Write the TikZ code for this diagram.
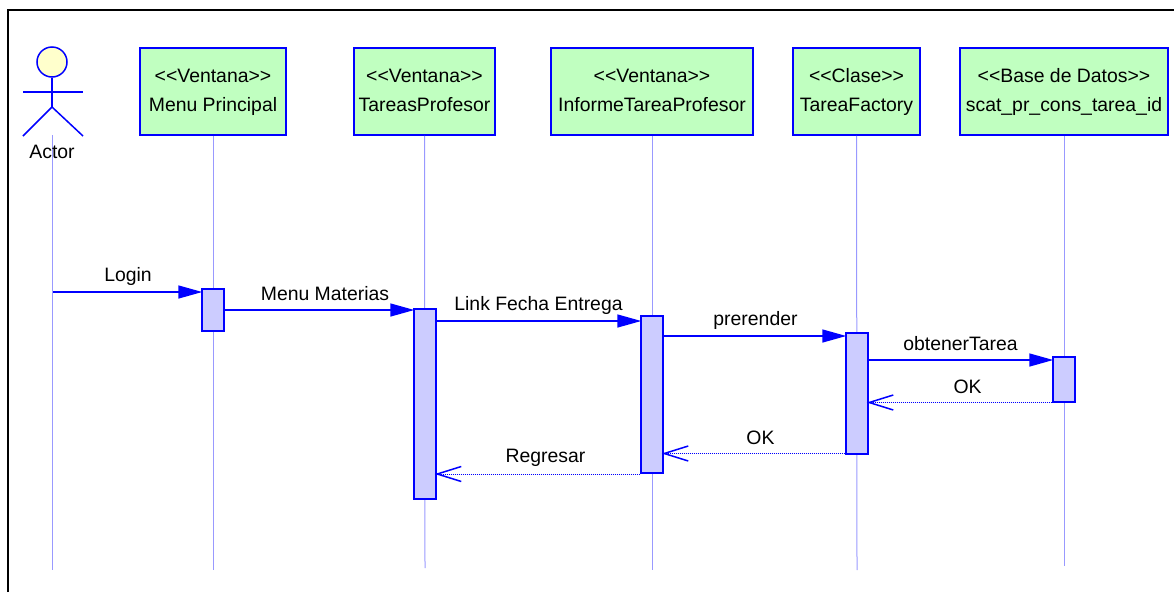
\documentclass[tikz,border=0pt]{standalone}
\usepackage{fontspec}
\setmainfont{Liberation Sans}[Ligatures=NoCommon]
\usepackage{xcolor}
\usetikzlibrary{arrows.meta, positioning}
\definecolor{umlBlue}{RGB}{0,0,255}
\definecolor{umlGreen}{RGB}{192,255,192}
\definecolor{umlBar}{RGB}{204,204,255}
\definecolor{umlLife}{RGB}{153,153,255}
\definecolor{umlHead}{RGB}{255,255,204}
\tikzstyle{lifeHead} = [draw=umlBlue, fill=umlGreen, rectangle, line width=1.5pt, minimum height=87pt, align=center, inner sep=0pt, font=\fontsize{19.4}{29}\selectfont]
\tikzstyle{bar} = [draw=umlBlue, fill=umlBar, rectangle, line width=1.5pt, minimum width=22pt, inner sep=0pt]
\tikzstyle{life} = [umlLife, line width=1pt]
\tikzstyle{limb} = [umlBlue, line width=1.5pt]
\tikzstyle{call} = [umlBlue, line width=1.5pt, -{Triangle[length=24pt,width=13pt]}, shorten >=-1pt]
\tikzstyle{back} = [umlBlue, line width=1pt, densely dotted, -{Straight Barb[length=24pt,width=15pt,line width=1.5pt]}, shorten >=-2pt]
\tikzstyle{msg} = [font=\fontsize{19.4}{23}\selectfont, inner sep=0pt]
\begin{document}
\begin{tikzpicture}[x=1pt, y=-1pt]
        \useasboundingbox (0,0) rectangle (1174,592);
        \draw [line width=2pt] (8,592) -- (8,10) -- (1174,10);

        % We start by placing the heads
        \node [lifeHead, minimum width=146pt] (menuHead) at (213,91.5) {\strut <\kern0pt<Ventana>\kern0pt>\\\strut Menu Principal};
        \node [lifeHead, minimum width=141pt] (tareasHead) at (424.5,91.5) {\strut <\kern0pt<Ventana>\kern0pt>\\\strut TareasProfesor};
        \node [lifeHead, minimum width=202pt] (informeHead) at (652,91.5) {\strut <\kern0pt<Ventana>\kern0pt>\\\strut InformeTareaProfesor};
        \node [lifeHead, minimum width=127pt] (factoryHead) at (856.5,91.5) {\strut <\kern0pt<Clase>\kern0pt>\\\strut TareaFactory};
        \node [lifeHead, minimum width=208pt] (baseHead) at (1064,91.5) {\strut <\kern0pt<Base de Datos>\kern0pt>\\\strut scat\_pr\_cons\_tarea\_id};

        % The actor
        \node [draw=umlBlue, fill=umlHead, circle, line width=1.5pt, minimum size=30pt, inner sep=0pt] (actorHead) at (52,62) {};
        \coordinate (hip) at (52,107);
        \coordinate (armL) at (23,92);
        \coordinate (armR) at (83,92);
        \coordinate (footL) at (23,136);
        \coordinate (footR) at (83,136);
        \draw [limb] (actorHead) -- (hip);
        \draw [limb] (armL) -- (armR);
        \draw [limb] (footL) -- (hip) -- (footR);

        % Lifelines go below the bars
        \coordinate (actorTop) at (52,135);
        \coordinate (actorEnd) at (52,570);
        \coordinate (menuEnd) at (213,570);
        \coordinate (tareasEnd) at (425,568);
        \coordinate (informeEnd) at (652,570);
        \coordinate (factoryEnd) at (857,570);
        \coordinate (baseEnd) at (1064,566);
        \draw [life] (actorTop) -- (actorEnd);
        \draw [life] (menuHead) -- (menuEnd);
        \draw [life] (tareasHead) -- (tareasEnd);
        \draw [life] (informeHead) -- (informeEnd);
        \draw [life] (factoryHead) -- (factoryEnd);
        \draw [life] (baseHead) -- (baseEnd);
        \node [msg] (actorLabel) at (52,152) {Actor};

        \node [bar, minimum height=42pt] (menuBar) at (213,310) {};
        \node [bar, minimum height=190pt] (tareasBar) at (425,404) {};
        \node [bar, minimum height=157pt] (informeBar) at (652,394.5) {};
        \node [bar, minimum height=121pt] (factoryBar) at (857,393.5) {};
        \node [bar, minimum height=45pt] (baseBar) at (1064,379.5) {};

        % Heights of the messages
        \coordinate (login) at (53,292);
        \coordinate (materias) at (0,310);
        \coordinate (fecha) at (0,321);
        \coordinate (pre) at (0,336);
        \coordinate (obtener) at (0,360);
        \coordinate (okBase) at (0,402.5);
        \coordinate (okFactory) at (0,453.5);
        \coordinate (regresar) at (0,474);

        \draw [call] (login) -- (menuBar.west |- login);
        \draw [call] (menuBar.east |- materias) -- (tareasBar.west |- materias);
        \draw [call] (tareasBar.east |- fecha) -- (informeBar.west |- fecha);
        \draw [call] (informeBar.east |- pre) -- (factoryBar.west |- pre);
        \draw [call] (factoryBar.east |- obtener) -- (baseBar.west |- obtener);
        \draw [back] (baseBar.west |- okBase) -- (factoryBar.east |- okBase);
        \draw [back] (factoryBar.west |- okFactory) -- (informeBar.east |- okFactory);
        \draw [back] (informeBar.west |- regresar) -- (tareasBar.east |- regresar);

        \node [msg] (loginLabel) at (128,276) {Login};
        \node [msg] (materiasLabel) at (325,293.5) {Menu Materias};
        \node [msg] (fechaLabel) at (538.5,305) {Link Fecha Entrega};
        \node [msg] (preLabel) at (755.5,320) {prerender};
        \node [msg] (obtenerLabel) at (960.5,344) {obtenerTarea};
        \node [msg] (okBaseLabel) at (967.5,387) {OK};
        \node [msg] (okFactoryLabel) at (760.5,438) {OK};
        \node [msg] (regresarLabel) at (545.5,458) {Regresar};
    \end{tikzpicture}
\end{document}
